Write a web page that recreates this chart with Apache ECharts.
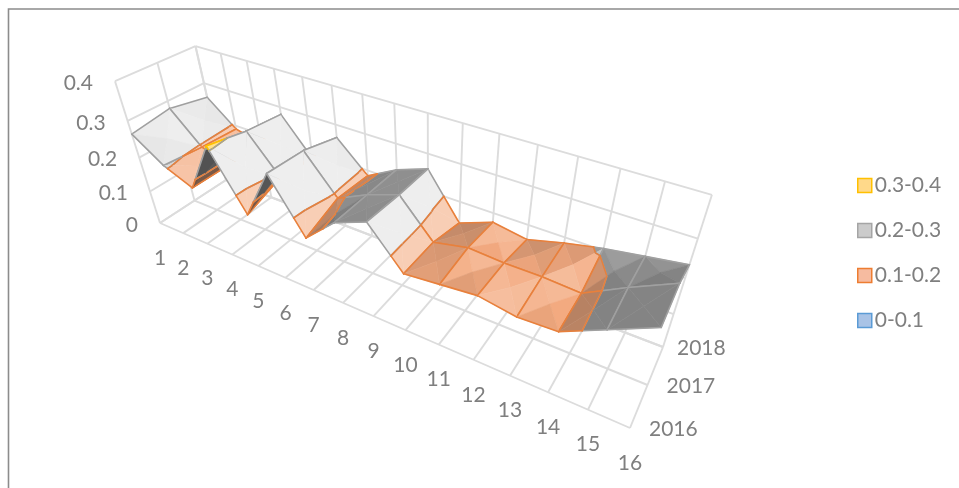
<!DOCTYPE html>
<html><head><meta charset="utf-8">
<style>html,body{margin:0;padding:0;background:#fff}#c{width:959px;height:488px}</style>
<script src="https://cdn.jsdelivr.net/npm/echarts@6/dist/echarts.min.js"></script>
</head><body><div id="c"></div>
<script>
// ---- data ----
const xLabels = ['1','2','3','4','5','6','7','8','9','10','11','12','13','14','15','16'];
const years = ['2016','2017','2018'];
const levelLabels = ['0','0.1','0.2','0.3','0.4'];
const levels = [0,0.1,0.2,0.3,0.4];
const values2016 = [.265,.205,.17,.31,.155,.295,.155,.23,.265,.165,.175,.185,.17,.175,.225,.275];
const values2017 = [.28,.195,.17,.29,.19,.29,.19,.23,.26,.165,.185,.18,.18,.175,.23,.28];
const values2018 = [.26,.19,.17,.28,.18,.265,.185,.23,.26,.14,.175,.16,.185,.205,.22,.235];
const bandNames = ['0-0.1','0.1-0.2','0.2-0.3','0.3-0.4'];
const rows = [values2016,values2017,values2018];

// ---- camera: maps box corners to the page ----
const box = {A:[160,223],D:[630,428],C:[663,347],B:[226,180],At:[121,84],Bt:[190,42],Ct:[712,197]};
const cam = (function(){
  const [x0,y0]=box.A,[x1,y1]=box.D,[x2,y2]=box.C,[x3,y3]=box.B;
  const dx1=x1-x2,dx2=x3-x2,sx=x0-x1+x2-x3,dy1=y1-y2,dy2=y3-y2,sy=y0-y1+y2-y3;
  const den=dx1*dy2-dx2*dy1, g=(sx*dy2-dx2*sy)/den, h=(dx1*sy-sx*dy1)/den;
  const a=x1-x0+g*x1,b=x3-x0+h*x3,d=y1-y0+g*y1,e=y3-y0+h*y3;
  const obs=[[0,0,box.At],[0,1,box.Bt],[1,1,box.Ct]];
  const N=[[0,0,0,0],[0,0,0,0],[0,0,0,0]];
  function add(r,v){for(let i=0;i<3;i++){for(let j=0;j<3;j++)N[i][j]+=r[i]*r[j];N[i][3]+=r[i]*v;}}
  obs.forEach(([u,v,[X,Y]])=>{
    const W=g*u+h*v+1,Xf=a*u+b*v+x0,Yf=d*u+e*v+y0;
    add([1,0,-X],X*W-Xf); add([0,1,-Y],Y*W-Yf);
  });
  for(let i=0;i<3;i++){for(let k=i+1;k<3;k++){const f=N[k][i]/N[i][i];for(let j=i;j<4;j++)N[k][j]-=f*N[i][j];}}
  const s=[0,0,0];
  for(let i=2;i>=0;i--){let t=N[i][3];for(let j=i+1;j<3;j++)t-=N[i][j]*s[j];s[i]=t/N[i][i];}
  return {a,b,c:s[0],x0,d,e,f:s[1],y0,g,h,k:s[2]};
})();
const nCol=xLabels.length-1,nRow=years.length-1,zMax=levels[levels.length-1];
function wOf(p){return cam.g*p[0]/nCol+cam.h*p[1]/nRow+cam.k*p[2]/zMax+1;}
function project(p){
  const u=p[0]/nCol,v=p[1]/nRow,t=p[2]/zMax,w=wOf(p);
  return [(cam.a*u+cam.b*v+cam.c*t+cam.x0)/w,(cam.d*u+cam.e*v+cam.f*t+cam.y0)/w];
}

// ---- surface pieces ----
const bandFill=[[91,155,213],[243,170,128],[170,170,170],[255,196,20]];
const bandLight=[1.5,1.0,1.9,1.5];
const bandLightMax=[.9,.42,.8,.5];
const bandLine=['#5B9BD5','#E8803C','#A0A0A0','#FFC000'];
function clip(poly,lo,hi){
  function pass(pts,inside,level){
    const out=[];
    pts.forEach((p,i)=>{
      const q=pts[(i+1)%pts.length],pi=inside(p[2]),qi=inside(q[2]);
      if(pi)out.push(p);
      if(pi!==qi){const t=(level-p[2])/(q[2]-p[2]);out.push([p[0]+t*(q[0]-p[0]),p[1]+t*(q[1]-p[1]),level]);}
    });
    return out;
  }
  let r=pass(poly,z=>z>=lo,lo);
  if(r.length)r=pass(r,z=>z<=hi,hi);
  return r;
}
function clipSeg(a,b,lo,hi){
  let t0=0,t1=1;const dz=b[2]-a[2];
  if(dz===0){if(a[2]<lo||a[2]>hi)return null;}
  else{
    const ta=(lo-a[2])/dz,tb=(hi-a[2])/dz;
    t0=Math.max(0,Math.min(ta,tb));t1=Math.min(1,Math.max(ta,tb));
    if(t0>=t1)return null;
  }
  const at=t=>[a[0]+t*(b[0]-a[0]),a[1]+t*(b[1]-a[1]),a[2]+t*dz];
  return [at(t0),at(t1)];
}
function shade(t,band){
  const e1=[t[1][0]-t[0][0],t[1][1]-t[0][1],t[1][2]-t[0][2]],e2=[t[2][0]-t[0][0],t[2][1]-t[0][1],t[2][2]-t[0][2]];
  const nx=e1[1]*e2[2]-e1[2]*e2[1],ny=e1[2]*e2[0]-e1[0]*e2[2],nz=e1[0]*e2[1]-e1[1]*e2[0];
  const dzdx=-nx/nz,dzdy=-ny/nz;
  const v=-dzdx+0.35*dzdy;
  let s=v>0?Math.min(bandLightMax[band],bandLight[band]*Math.pow(v,0.35)):-Math.min(.75,0.6*Math.sqrt(-v)+2.5*(-v));
  const base=bandFill[band],tgt=s>0?[255,255,255]:[20,20,20],k=s>0?s:-s;
  return 'rgb('+base.map((c,i)=>Math.round(c+(tgt[i]-c)*k)).join(',')+')';
}
const pieces=[[],[],[],[]];
(function(){
  const tris=[];
  for(let i=0;i<nCol;i++)for(let r=0;r<nRow;r++){
    const c=[[i,r,rows[r][i]],[i+1,r,rows[r][i+1]],[i+1,r+1,rows[r+1][i+1]],[i,r+1,rows[r+1][i]]];
    const m=[i+.5,r+.5,(c[0][2]+c[1][2]+c[2][2]+c[3][2])/4];
    for(let k=0;k<4;k++){const a=c[k],b=c[(k+1)%4];tris.push({a,b,m,depth:wOf([(a[0]+b[0]+m[0])/3,(a[1]+b[1]+m[1])/3,(a[2]+b[2]+m[2])/3])});}
  }
  tris.sort((p,q)=>q.depth-p.depth);
  tris.forEach((t,rank)=>{
    for(let band=3;band>=0;band--){
      const lo=levels[band],hi=levels[band+1];
      const poly=clip([t.a,t.b,t.m],lo,hi);
      if(poly.length<3)continue;
      const lines=[];
      const seg=clipSeg(t.a,t.b,lo,hi); if(seg)lines.push(seg);
      poly.forEach((p,i)=>{const q=poly[(i+1)%poly.length];
        if((p[2]===lo&&q[2]===lo)||(p[2]===hi&&q[2]===hi))lines.push([p,q]);});
      pieces[band].push({poly,lines,fill:shade([t.a,t.b,t.m],band),z:(rank+1)*10+(3-band)});
    }
  });
})();

// ---- walls and floor ----
const wallLines=[];
xLabels.forEach((_,i)=>{
  wallLines.push([[i,0,0],[i,nRow,0]]);
  wallLines.push([[i,nRow,0],[i,nRow,zMax]]);
});
years.forEach((_,r)=>{
  wallLines.push([[0,r,0],[nCol,r,0]]);
  wallLines.push([[0,r,0],[0,r,zMax]]);
});
levels.forEach(z=>{
  wallLines.push([[0,0,z],[0,nRow,z]]);
  wallLines.push([[0,nRow,z],[nCol,nRow,z]]);
});
const textItems=[];
xLabels.forEach((t,i)=>textItems.push({t,p:[i,0,0],dx:0,dy:35,align:'center'}));
years.forEach((t,r)=>textItems.push({t,p:[nCol,r,0],dx:r===2?14:19,dy:1,align:'left'}));
levelLabels.forEach((t,k)=>textItems.push({t,p:[0,0,levels[k]],dx:-22,dy:2,align:'right'}));

const FONT='Lato';
function P(api,p){const q=project(p);return api.coord(q);}
function surfaceSeries(band){
  return {
    name:bandNames[band],type:'custom',coordinateSystem:'cartesian2d',clip:false,silent:true,
    itemStyle:{color:bandLine[band]},
    data:pieces[band].map((_,i)=>[i]),
    encode:{x:0,y:0},
    renderItem:function(params,api){
      const pc=pieces[band][params.dataIndex];
      const kids=[{type:'polygon',z2:pc.z,shape:{points:pc.poly.map(p=>P(api,p))},style:{fill:pc.fill,stroke:pc.fill,lineWidth:.6}}];
      pc.lines.forEach(l=>{
        const a=P(api,l[0]),b=P(api,l[1]);
        kids.push({type:'line',z2:pc.z+5,shape:{x1:a[0],y1:a[1],x2:b[0],y2:b[1]},style:{stroke:bandLine[band],lineWidth:1.6,lineCap:'round'}});
      });
      return {type:'group',children:kids};
    }
  };
}
const series=[
  {type:'custom',name:'walls',silent:true,clip:false,z:1,data:wallLines.map((_,i)=>[i]),encode:{x:0,y:0},
   renderItem:function(params,api){
     const l=wallLines[params.dataIndex],a=P(api,l[0]),b=P(api,l[1]);
     return {type:'line',shape:{x1:a[0],y1:a[1],x2:b[0],y2:b[1]},style:{stroke:'#DCDCDC',lineWidth:1.9}};
   }},
  {type:'custom',name:'ticks',silent:true,clip:false,z:1,data:textItems.map((_,i)=>[i]),encode:{x:0,y:0},
   renderItem:function(params,api){
     const it=textItems[params.dataIndex],a=P(api,it.p);
     return {type:'text',x:a[0]+it.dx,y:a[1]+it.dy,style:{text:it.t,fill:'#7F7F7F',font:'21px '+FONT,align:it.align,verticalAlign:'middle'}};
   }}
].concat([0,1,2,3].map(surfaceSeries));

const chart=echarts.init(document.getElementById('c'),null,{renderer:'canvas'});
chart.setOption({
  animation:false,backgroundColor:'#fff',
  grid:{left:8,top:8,right:8,bottom:8,show:false},
  xAxis:{type:'value',min:8,max:951,show:false},
  yAxis:{type:'value',min:8,max:480,inverse:true,show:false},
  graphic:[{type:'polyline',silent:true,shape:{points:[[8.5,488],[8.5,9],[959,9]]},style:{fill:'none',stroke:'#8C8C8C',lineWidth:1.6}}],
  legend:{orient:'vertical',left:852,top:170,itemWidth:14,itemHeight:14,itemGap:24,icon:'rect',selectedMode:false,
    textStyle:{color:'#7F7F7F',fontFamily:FONT,fontSize:21,padding:[0,0,0,-2]},
    data:[
     {name:'0.3-0.4',itemStyle:{color:'#FFD98A',borderColor:'#FFC000',borderWidth:1.5}},
     {name:'0.2-0.3',itemStyle:{color:'#CBCBCB',borderColor:'#A5A5A5',borderWidth:1.5}},
     {name:'0.1-0.2',itemStyle:{color:'#F6BBA0',borderColor:'#ED7D31',borderWidth:1.5}},
     {name:'0-0.1',itemStyle:{color:'#A9C3E6',borderColor:'#5B9BD5',borderWidth:1.5}}
    ]},
  series:series
});
</script></body></html>
